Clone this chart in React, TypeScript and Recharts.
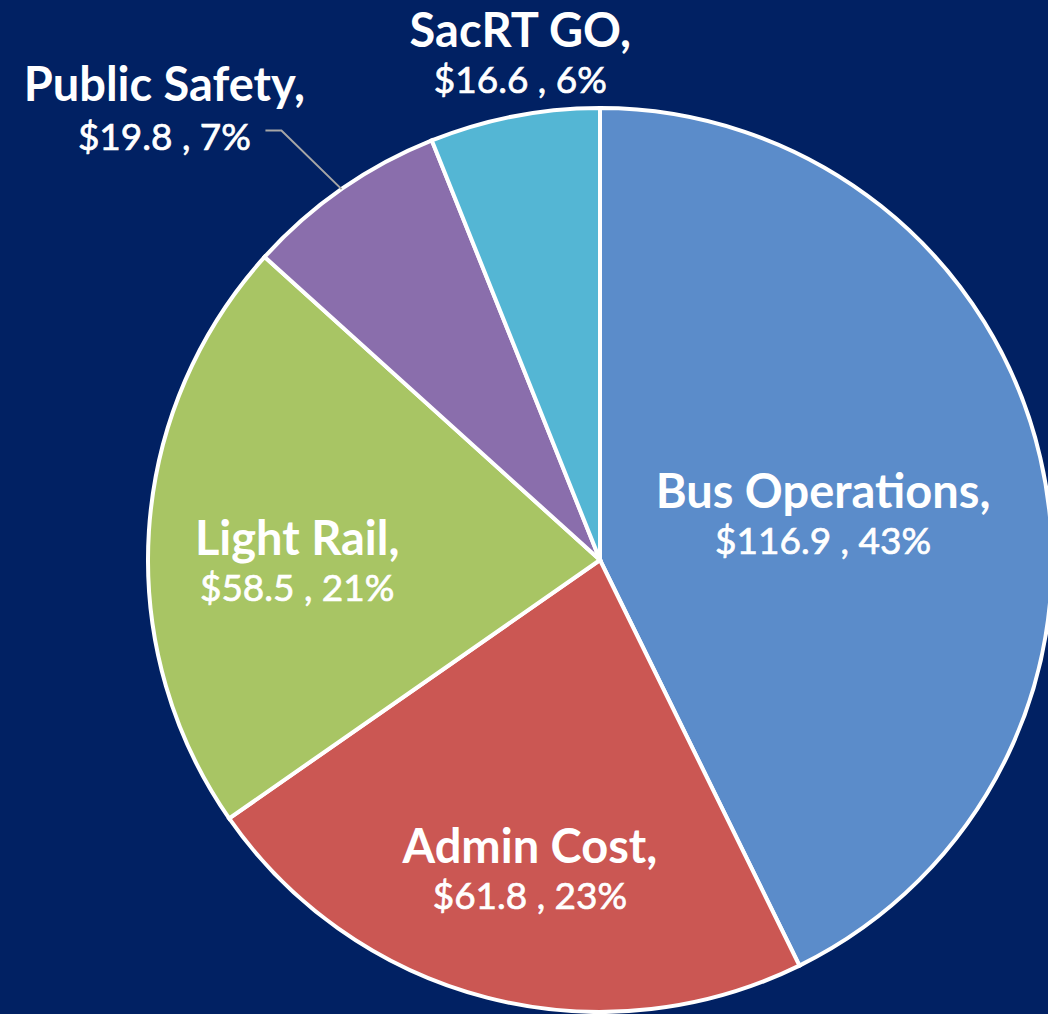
import React from "react";
import { PieChart, Pie, Cell } from "recharts";

const categories = ["Bus Operations", "Admin Cost", "Light Rail", "Public Safety", "SacRT GO"];
const values = [116.9, 61.8, 58.5, 19.8, 16.6];
const colors = ["#5B8CCA", "#CB5753", "#A8C564", "#8A6EAC", "#54B6D4"];

// label layout (radius fraction of outer radius, angle shift in degrees, outside with leader line)
const labelRadius = [0.498, 0.735, 0.671, 1.183, 1.1];
const labelAngleShift = [-5.4, 2.3, 6.8, 1.7, -1.7];
const labelLeader = [false, false, false, true, false];

const data = categories.map((name, i) => ({ name, value: values[i] }));

const RAD = Math.PI / 180;
const FONT = "Lato, 'Open Sans', sans-serif";

const renderLabel = (props: any) => {
  const { cx, cy, midAngle, outerRadius, index, percent, value, name } = props;
  const a = (midAngle + labelAngleShift[index]) * RAD;
  const r = outerRadius * labelRadius[index];
  const x = cx + r * Math.cos(a);
  const y = cy - r * Math.sin(a);
  const line1 = `${name},`;
  const line2 = `$${value.toFixed(1)} , ${Math.round(percent * 100)}%`;
  const l2Style = { stroke: "#FFFFFF", strokeWidth: 0.7 };
  if (labelLeader[index]) {
    const ex = cx + outerRadius * Math.cos(midAngle * RAD);
    const ey = cy - outerRadius * Math.sin(midAngle * RAD);
    const tx = x - 117;
    return (
      <g>
        <polyline
          points={`${ex},${ey} ${x},${y} ${x - 16},${y}`}
          fill="none"
          stroke="#A6A6A6"
          strokeWidth={2}
        />
        <text x={tx} y={y - 30} textAnchor="middle" fill="#FFFFFF" fontFamily={FONT} fontWeight={700} fontSize={47}>
          {line1}
        </text>
        <text x={tx} y={y + 19} textAnchor="middle" fill="#FFFFFF" fontFamily={FONT} fontWeight={400} fontSize={37} {...l2Style}>
          {line2}
        </text>
      </g>
    );
  }
  return (
    <g>
      <text x={x} y={y - 22} textAnchor="middle" fill="#FFFFFF" fontFamily={FONT} fontWeight={700} fontSize={47}>
        {line1}
      </text>
      <text x={x} y={y + 24} textAnchor="middle" fill="#FFFFFF" fontFamily={FONT} fontWeight={400} fontSize={37} {...l2Style}>
        {line2}
      </text>
    </g>
  );
};

export default function App() {
  return (
    <div
      style={{
        position: "absolute",
        left: 0,
        top: 0,
        width: 1048,
        height: 1014,
        background: "#012163",
        overflow: "hidden",
      }}
    >
      <PieChart width={1048} height={1014} margin={{ top: 0, right: 0, bottom: 0, left: 0 }}>
        <Pie
          data={data}
          dataKey="value"
          nameKey="name"
          cx={600}
          cy={560}
          outerRadius={452}
          startAngle={90}
          endAngle={-270}
          stroke="#FFFFFF"
          strokeWidth={4}
          label={renderLabel}
          labelLine={false}
          isAnimationActive={false}
        >
          {data.map((d, i) => (
            <Cell key={d.name} fill={colors[i]} />
          ))}
        </Pie>
      </PieChart>
    </div>
  );
}
